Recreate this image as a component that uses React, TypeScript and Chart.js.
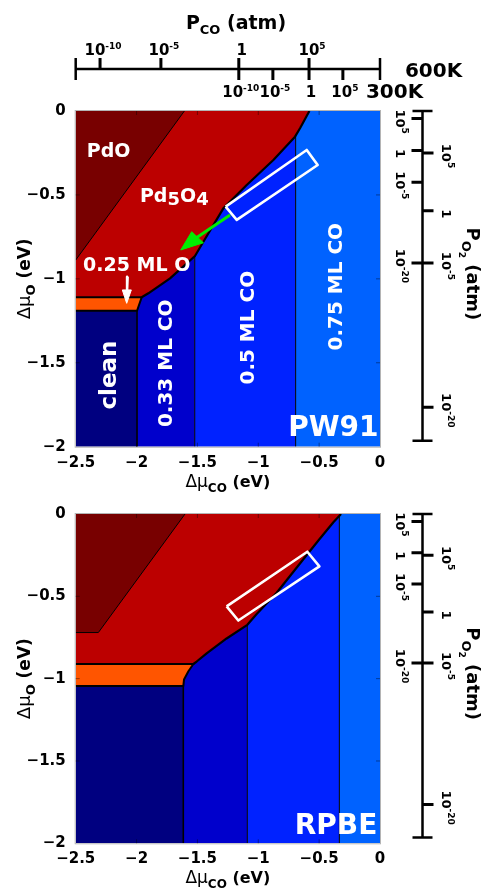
import React, { useEffect, useRef } from 'react';
import { Chart, registerables } from 'chart.js';

Chart.register(...registerables);

const FONT = '"DejaVu Sans", "Liberation Sans", sans-serif';

// ---------- axis ticks ----------
const X_TICKS = [-2.5, -2, -1.5, -1, -0.5, 0];
const Y_TICKS = [0, -0.5, -1, -1.5, -2];

// secondary P_CO axis (positions on the Δμ_CO scale)
const PCO_600K_POS = [-2.3, -1.8, -1.16, -0.583];
const PCO_600K_LABELS = ['10^-10', '10^-5', '1', '10^5'];
const PCO_300K_POS = [-1.16, -0.88, -0.583, -0.305];
const PCO_300K_LABELS = ['10^-10', '10^-5', '1', '10^5'];

// secondary P_O2 axis (positions on the Δμ_O scale)
const PO2_RANGE = [0, -1.965];
const PO2_300K_POS = [-0.045, -0.235, -0.425, -0.905];
const PO2_300K_LABELS = ['10^5', '1', '10^-5', '10^-20'];
const PO2_600K_POS = [-0.25, -0.595, -0.905, -1.765];
const PO2_600K_LABELS = ['10^5', '1', '10^-5', '10^-20'];

// ---------- colours ----------
const CO_PHASE_COLORS = ['#000080', '#0000cc', '#0022ff', '#0062ff'];
const PDO_COLOR = '#780000';
const PD5O4_COLOR = '#bc0000';
const O25_COLOR = '#ff5500';

// ---------- PW91 phase boundaries ----------
const PW91_CO_EDGES = [-2.5, -1.996, -1.522, -0.693, 0];
const PW91_CURVE_X = [-0.58, -0.657, -0.698, -0.876, -1.095, -1.287, -1.451, -1.52, -1.725, -1.903, -1.958];
const PW91_CURVE_Y = [0, -0.103, -0.153, -0.292, -0.441, -0.58, -0.779, -0.864, -0.997, -1.086, -1.11];
const PW91_O25_X = [-2.5, -1.958, -1.996, -2.5];
const PW91_O25_Y = [-1.11, -1.11, -1.19, -1.19];
const PW91_PDO_X = [-2.5, -1.607, -2.5];
const PW91_PDO_Y = [0, 0, -0.888];
const PW91_BOX_X = [-1.268, -1.177, -0.512, -0.602];
const PW91_BOX_Y = [-0.57, -0.649, -0.322, -0.232];
const PW91_LABEL_TEXT = ['PdO', 'Pd_5O_4', '0.25 ML O', 'clean', '0.33 ML CO', '0.5 ML CO', '0.75 ML CO', 'PW91'];
const PW91_LABEL_X = [-2.229, -1.69, -1.999, -2.218, -1.752, -1.082, -0.356, -0.383];
const PW91_LABEL_Y = [-0.242, -0.515, -0.922, -1.573, -1.503, -1.291, -1.047, -1.891];
// green arrow (shaft start, shaft end) and head triangle
const GREEN_SHAFT_X = [-1.232, -1.505];
const GREEN_SHAFT_Y = [-0.62, -0.753];
const GREEN_HEAD_X = [-1.547, -1.451, -1.637];
const GREEN_HEAD_Y = [-0.719, -0.785, -0.828];
const WHITE_SHAFT_X = [-2.073, -2.078];
const WHITE_SHAFT_Y = [-0.987, -1.07];
const WHITE_HEAD_X = [-2.117, -2.043, -2.081];
const WHITE_HEAD_Y = [-1.066, -1.066, -1.146];

// ---------- RPBE phase boundaries ----------
const RPBE_CO_EDGES = [-2.5, -1.616, -1.09, -0.334, 0];
const RPBE_CURVE_X = [-0.32, -0.383, -0.493, -0.602, -0.849, -1.013, -1.09, -1.26, -1.424, -1.506, -1.533];
const RPBE_CURVE_Y = [0, -0.05, -0.149, -0.249, -0.478, -0.607, -0.673, -0.756, -0.846, -0.896, -0.911];
const RPBE_O25_X = [-2.5, -1.533, -1.574, -1.61, -1.616, -2.5];
const RPBE_O25_Y = [-0.911, -0.911, -0.955, -1.005, -1.045, -1.045];
const RPBE_PDO_X = [-2.5, -1.602, -2.314, -2.5];
const RPBE_PDO_Y = [0, 0, -0.72, -0.72];
const RPBE_BOX_X = [-1.26, -1.164, -0.498, -0.597];
const RPBE_BOX_Y = [-0.561, -0.647, -0.318, -0.229];
const RPBE_LABEL_TEXT = ['RPBE'];
const RPBE_LABEL_X = [-0.361];
const RPBE_LABEL_Y = [-1.897];

// ---------- styles ----------
const LABEL_STYLE: Record<string, { size: number; rot: number }> = {
  PdO: { size: 19, rot: 0 },
  Pd_5O_4: { size: 19, rot: 0 },
  '0.25 ML O': { size: 19, rot: 0 },
  clean: { size: 23, rot: -Math.PI / 2 },
  '0.33 ML CO': { size: 20, rot: -Math.PI / 2 },
  '0.5 ML CO': { size: 20, rot: -Math.PI / 2 },
  '0.75 ML CO': { size: 20, rot: -Math.PI / 2 },
  PW91: { size: 28, rot: 0 },
  RPBE: { size: 28, rot: 0 },
};

type P = { x: number; y: number };
const pts = (xs: number[], ys: number[]): P[] => xs.map((x, i) => ({ x, y: ys[i] }));
const closed = (p: P[]) => [...p, p[0]];
const rect = (x0: number, x1: number, y0: number, y1: number): P[] => [
  { x: x0, y: y0 }, { x: x1, y: y0 }, { x: x1, y: y1 }, { x: x0, y: y1 }, { x: x0, y: y0 },
];

function area(data: P[], color: string) {
  return {
    type: 'line', data, backgroundColor: color, borderColor: 'rgba(0,0,0,0)', borderWidth: 1,
    fill: 'shape', pointRadius: 0, tension: 0,
  };
}
function stroke(data: P[], color: string, width: number) {
  return {
    type: 'line', data, borderColor: color, borderWidth: width, fill: false,
    pointRadius: 0, tension: 0, borderJoinStyle: 'round', borderCapStyle: 'butt',
  };
}

type Panel = {
  coEdges: number[]; curveX: number[]; curveY: number[]; o25X: number[]; o25Y: number[];
  pdoX: number[]; pdoY: number[]; boxX: number[]; boxY: number[];
  labelText: string[]; labelX: number[]; labelY: number[];
  arrows: boolean; topAxis: boolean; height: number; padTop: number; padBottom: number;
};

const PANELS: Panel[] = [
  {
    coEdges: PW91_CO_EDGES, curveX: PW91_CURVE_X, curveY: PW91_CURVE_Y, o25X: PW91_O25_X, o25Y: PW91_O25_Y,
    pdoX: PW91_PDO_X, pdoY: PW91_PDO_Y, boxX: PW91_BOX_X, boxY: PW91_BOX_Y,
    labelText: PW91_LABEL_TEXT, labelX: PW91_LABEL_X, labelY: PW91_LABEL_Y,
    arrows: true, topAxis: true, height: 495, padTop: 111, padBottom: 8.3,
  },
  {
    coEdges: RPBE_CO_EDGES, curveX: RPBE_CURVE_X, curveY: RPBE_CURVE_Y, o25X: RPBE_O25_X, o25Y: RPBE_O25_Y,
    pdoX: RPBE_PDO_X, pdoY: RPBE_PDO_Y, boxX: RPBE_BOX_X, boxY: RPBE_BOX_Y,
    labelText: RPBE_LABEL_TEXT, labelX: RPBE_LABEL_X, labelY: RPBE_LABEL_Y,
    arrows: false, topAxis: false, height: 397, padTop: 13.3, padBottom: 8.7,
  },
];

function buildDatasets(p: Panel) {
  const ds: any[] = [];
  const e = p.coEdges;
  for (let i = 0; i < e.length - 1; i++) ds.push(area(rect(e[i], e[i + 1], -2, 0), CO_PHASE_COLORS[i]));
  for (let i = 1; i < e.length - 1; i++) ds.push(stroke([{ x: e[i], y: -2 }, { x: e[i], y: 0 }], '#000', i === 1 ? 1.6 : 1));
  const curve = pts(p.curveX, p.curveY);
  ds.push(area([{ x: -2.5, y: 0 }, ...curve, { x: -2.5, y: p.o25Y[0] }, { x: -2.5, y: 0 }], PD5O4_COLOR));
  ds.push(area(closed(pts(p.pdoX, p.pdoY)), PDO_COLOR));
  ds.push(area(closed(pts(p.o25X, p.o25Y)), O25_COLOR));
  ds.push(stroke(pts(p.pdoX, p.pdoY).slice(1), '#000', 1));
  ds.push(stroke(pts(p.o25X, p.o25Y), '#000', 2));
  ds.push(stroke(curve, '#000', 2.2));
  ds.push(stroke(closed(pts(p.boxX, p.boxY)), '#fff', 2.6));
  if (p.arrows) {
    ds.push(stroke(pts(GREEN_SHAFT_X, GREEN_SHAFT_Y), '#00ee00', 3));
    ds.push({ ...area(closed(pts(GREEN_HEAD_X, GREEN_HEAD_Y)), '#00ee00'), borderColor: '#00ee00' });
    ds.push(stroke(pts(WHITE_SHAFT_X, WHITE_SHAFT_Y), '#fff', 2.5));
    ds.push({ ...area(closed(pts(WHITE_HEAD_X, WHITE_HEAD_Y)), '#fff'), borderColor: '#fff' });
  }
  return ds.map((d, i) => ({ ...d, order: -i }));
}

type Run = { t: string; size: number; weight?: string; dy?: number };
const fontOf = (r: Run) => `${r.weight || 'bold'} ${r.size}px ${FONT}`;

function drawRuns(ctx: CanvasRenderingContext2D, runs: Run[], x: number, y: number, rot: number, color: string, baseline: CanvasTextBaseline) {
  ctx.save();
  ctx.translate(x, y);
  ctx.rotate(rot);
  ctx.fillStyle = color;
  ctx.textBaseline = baseline;
  ctx.textAlign = 'left';
  let w = 0;
  for (const r of runs) { ctx.font = fontOf(r); w += ctx.measureText(r.t).width; }
  let cx = -w / 2;
  for (const r of runs) {
    ctx.font = fontOf(r);
    ctx.fillText(r.t, cx, r.dy || 0);
    cx += ctx.measureText(r.t).width;
  }
  ctx.restore();
}

function powRuns(label: string, base: number, sup: number, rise: number): Run[] {
  const [b, ex] = label.split('^');
  const r: Run[] = [{ t: b, size: base }];
  if (ex) r.push({ t: ex, size: sup, dy: -rise });
  return r;
}

function subRuns(label: string, size: number): Run[] {
  const parts = label.split(/_(\d)/);
  return parts.filter((s) => s.length).map((s) => (
    /^\d$/.test(s) && label.includes('_' + s) ? { t: s, size: size - 1, dy: 3 } : { t: s, size }
  ));
}

function fmt(v: number) {
  return v === 0 ? '0' : '\u2212' + String(Math.abs(v));
}

function decorPlugin(p: Panel) {
  return {
    id: 'decor',
    afterDraw(chart: any) {
      const ctx: CanvasRenderingContext2D = chart.ctx;
      const a = chart.chartArea;
      const X = (v: number) => chart.scales.x.getPixelForValue(v);
      const Y = (v: number) => chart.scales.y.getPixelForValue(v);
      ctx.save();
      // frame
      ctx.strokeStyle = '#b4b4b4';
      ctx.lineWidth = 1;
      ctx.strokeRect(a.left - 0.5, a.top - 0.5, a.right - a.left + 1, a.bottom - a.top + 1);
      // inner ticks
      ctx.strokeStyle = 'rgba(0,0,0,0.4)';
      ctx.beginPath();
      X_TICKS.slice(1, -1).forEach((v) => {
        const px = X(v);
        ctx.moveTo(px, a.bottom); ctx.lineTo(px, a.bottom - 4);
        ctx.moveTo(px, a.top); ctx.lineTo(px, a.top + 4);
      });
      Y_TICKS.slice(1, -1).forEach((v) => {
        const py = Y(v);
        ctx.moveTo(a.left, py); ctx.lineTo(a.left + 4, py);
        ctx.moveTo(a.right, py); ctx.lineTo(a.right - 4, py);
      });
      ctx.stroke();

      // in-plot labels
      p.labelText.forEach((t, i) => {
        const st = LABEL_STYLE[t];
        drawRuns(ctx, subRuns(t, st.size), X(p.labelX[i]), Y(p.labelY[i]), st.rot, '#fff', 'middle');
      });

      // right P_O2 axis
      ctx.strokeStyle = '#000';
      ctx.lineCap = 'butt';
      const ax = a.right + 42.5;
      const y0 = Y(PO2_RANGE[0]);
      const y1 = Y(PO2_RANGE[1]);
      ctx.lineWidth = 2.5;
      ctx.beginPath();
      ctx.moveTo(ax, y0); ctx.lineTo(ax, y1);
      ctx.moveTo(ax - 10, y0); ctx.lineTo(ax + 10, y0);
      ctx.moveTo(ax - 10, y1); ctx.lineTo(ax + 10, y1);
      ctx.stroke();
      ctx.lineWidth = 3;
      ctx.beginPath();
      PO2_300K_POS.forEach((v) => { ctx.moveTo(ax - 11, Y(v)); ctx.lineTo(ax, Y(v)); });
      PO2_600K_POS.forEach((v) => { ctx.moveTo(ax, Y(v)); ctx.lineTo(ax + 11, Y(v)); });
      ctx.stroke();
      PO2_300K_POS.forEach((v, i) => drawRuns(ctx, powRuns(PO2_300K_LABELS[i], 13, 9, 5), ax - 23, Y(v) + 3, Math.PI / 2, '#000', 'middle'));
      PO2_600K_POS.forEach((v, i) => drawRuns(ctx, powRuns(PO2_600K_LABELS[i], 13, 9, 5), ax + 23, Y(v) + 3, Math.PI / 2, '#000', 'middle'));
      const midY = (a.top + a.bottom) / 2;
      drawRuns(ctx, [
        { t: 'P', size: 18 }, { t: 'O', size: 13, dy: 5 }, { t: '2', size: 9, dy: 8 }, { t: ' (atm)', size: 18 },
      ], a.right + 87, midY - 5, Math.PI / 2, '#000', 'alphabetic');

      // axis titles
      drawRuns(ctx, [
        { t: '\u0394\u03bc', size: 17, weight: 'normal' }, { t: 'CO', size: 12, dy: 5 }, { t: ' (eV)', size: 16 },
      ], (a.left + a.right) / 2, a.bottom + 40, 0, '#000', 'alphabetic');
      drawRuns(ctx, [
        { t: '\u0394\u03bc', size: 18, weight: 'normal' }, { t: 'O', size: 13, dy: 5 }, { t: ' (eV)', size: 17 },
      ], 30, midY, -Math.PI / 2, '#000', 'alphabetic');

      // top P_CO axis
      if (p.topAxis) {
        const ty = a.top - 42;
        const xl = X(-2.5);
        const xr = X(0);
        ctx.lineWidth = 2.5;
        ctx.beginPath();
        ctx.moveTo(xl, ty); ctx.lineTo(xr, ty);
        ctx.moveTo(xl, ty - 11); ctx.lineTo(xl, ty + 11);
        ctx.moveTo(xr, ty - 11); ctx.lineTo(xr, ty + 11);
        ctx.stroke();
        ctx.lineWidth = 3;
        ctx.beginPath();
        PCO_600K_POS.forEach((v) => { ctx.moveTo(X(v), ty - 11); ctx.lineTo(X(v), ty); });
        PCO_300K_POS.forEach((v) => { ctx.moveTo(X(v), ty); ctx.lineTo(X(v), ty + 11); });
        ctx.stroke();
        PCO_600K_POS.forEach((v, i) => drawRuns(ctx, powRuns(PCO_600K_LABELS[i], 15, 9, 6), X(v) + 3, ty - 14, 0, '#000', 'alphabetic'));
        PCO_300K_POS.forEach((v, i) => drawRuns(ctx, powRuns(PCO_300K_LABELS[i], 15, 9, 6), X(v) + 2, ty + 28, 0, '#000', 'alphabetic'));
        drawRuns(ctx, [{ t: '600K', size: 20 }], a.right + 53.5, ty + 8, 0, '#000', 'alphabetic');
        drawRuns(ctx, [{ t: '300K', size: 20 }], a.right + 14.5, ty + 29, 0, '#000', 'alphabetic');
        drawRuns(ctx, [{ t: 'P', size: 19 }, { t: 'CO', size: 13, dy: 5 }, { t: ' (atm)', size: 19 }], 236, 29, 0, '#000', 'alphabetic');
      }
      ctx.restore();
    },
  };
}

function makeChart(canvas: HTMLCanvasElement, p: Panel) {
  const tickFont = { family: FONT, size: 15, weight: 'bold' as const };
  return new Chart(canvas, {
    type: 'line',
    data: { datasets: buildDatasets(p) as any },
    options: {
      animation: false,
      responsive: false,
      devicePixelRatio: 1,
      events: [],
      layout: { padding: { left: 0, right: 104, top: p.padTop, bottom: p.padBottom } },
      plugins: { legend: { display: false }, tooltip: { enabled: false }, title: { display: false } },
      scales: {
        x: {
          type: 'linear', min: -2.5, max: 0, position: 'bottom',
          grid: { display: false, drawTicks: false }, border: { display: false },
          afterBuildTicks: (s: any) => { s.ticks = X_TICKS.map((v) => ({ value: v })); },
          afterFit: (s: any) => { s.height = 40; },
          ticks: { autoSkip: false, maxRotation: 0, padding: 7, color: '#000', font: tickFont, callback: (v: any) => fmt(Number(v)) },
        },
        y: {
          type: 'linear', min: -2, max: 0, position: 'left',
          grid: { display: false, drawTicks: false }, border: { display: false },
          afterBuildTicks: (s: any) => { s.ticks = Y_TICKS.map((v) => ({ value: v })); },
          afterFit: (s: any) => { s.width = 75.7; },
          ticks: { autoSkip: false, padding: 10, color: '#000', font: tickFont, callback: (v: any) => fmt(Number(v)) },
        },
      },
    } as any,
    plugins: [decorPlugin(p)],
  });
}

export default function App() {
  const topRef = useRef<HTMLCanvasElement>(null);
  const botRef = useRef<HTMLCanvasElement>(null);
  useEffect(() => {
    const c1 = makeChart(topRef.current as HTMLCanvasElement, PANELS[0]);
    const c2 = makeChart(botRef.current as HTMLCanvasElement, PANELS[1]);
    return () => { c1.destroy(); c2.destroy(); };
  }, []);
  return (
    <div style={{ position: 'absolute', left: 0, top: 0, width: 484, height: 892, background: '#fff', overflow: 'hidden' }}>
      <canvas ref={topRef} width={484} height={PANELS[0].height} style={{ position: 'absolute', left: 0, top: 0, width: 484, height: PANELS[0].height }} />
      <canvas ref={botRef} width={484} height={PANELS[1].height} style={{ position: 'absolute', left: 0, top: PANELS[0].height, width: 484, height: PANELS[1].height }} />
    </div>
  );
}
